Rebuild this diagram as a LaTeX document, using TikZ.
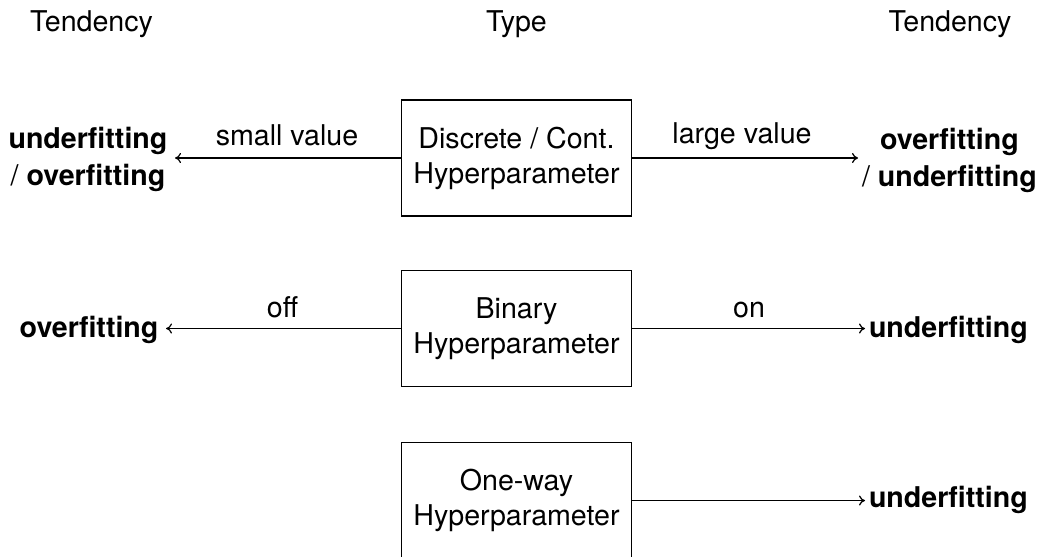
\documentclass[tikz,border=0pt]{standalone}
\usepackage{fontspec}
\setmainfont{TeX Gyre Heros}
\usetikzlibrary{arrows.meta}

\begin{document}
\begin{tikzpicture}[x=0.5pt,y=-0.5pt,
  every node/.style={font=\fontsize{14.3pt}{17.5pt}\selectfont},
  head/.style={anchor=base, inner sep=0pt},
  hpbox/.style={draw, line width=0.6pt, minimum width=115pt, minimum height=58pt,
                inner sep=0pt, align=center},
  tendl/.style={align=center, inner ysep=0pt, inner xsep=3.6pt,
                font=\fontsize{14.3pt}{18.5pt}\selectfont\bfseries},
  tendr/.style={align=center, inner ysep=0pt, inner xsep=1.8pt,
                font=\fontsize{14.3pt}{18.5pt}\selectfont\bfseries},
  elabel/.style={anchor=base, inner sep=0pt},
  arr/.style={line width=0.6pt, -{To[length=3pt,width=5pt]}}
]
\useasboundingbox (0,0) rectangle (1042,556);

% column headings
\node[head] (tl) at (91.5,32) {Tendency};
\node[head] (tm) at (516.5,32) {Type};
\node[head] (tr) at (950,32) {Tendency};

% hyperparameter types
\node[hpbox] (b1) at (516.5,158) {Discrete / Cont.\\Hyperparameter};
\node[hpbox] (b2) at (516.5,328.5) {Binary\\Hyperparameter};
\node[hpbox] (b3) at (516.5,500.5) {One-way\\Hyperparameter};

% tendencies
\node[tendl, anchor=east] (l1) at (175,159) {underfitting\\{\mdseries/} overfitting};
\node[tendr, anchor=west] (r1) at (858,160) {overfitting\\{\mdseries/} underfitting};
\node[tendl, anchor=base east] (l2) at (166,337) {overfitting};
\node[tendr, anchor=base west] (r2) at (865,337) {underfitting};
\node[tendr, anchor=base west] (r3) at (865,507) {underfitting};

% connectors
\draw[arr] (b1.west) -- (b1.west -| l1.east);
\draw[arr] (b1.east) -- (b1.east -| r1.west);
\draw[arr] (b2.west) -- (b2.west -| l2.east);
\draw[arr] (b2.east) -- (b2.east -| r2.west);
\draw[arr] (b3.east) -- (b3.east -| r3.west);

% connector labels
\node[elabel] (sv) at (287,145) {small value};
\node[elabel] (lv) at (742,143) {large value};
\node[elabel] (off) at (282.5,317) {off};
\node[elabel] (on) at (749,317) {on};
\end{tikzpicture}
\end{document}
